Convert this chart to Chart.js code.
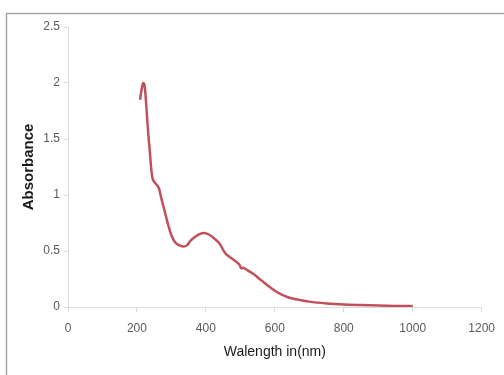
<!DOCTYPE html>
<html>
<head>
<meta charset="utf-8">
<script src="https://cdn.jsdelivr.net/npm/chart.js@4/dist/chart.umd.min.js"></script>
<style>
  html, body { margin: 0; padding: 0; background: #fff; }
  #wrap { position: relative; width: 504px; height: 375px; }
</style>
</head>
<body>
<div id="wrap"><canvas id="spectrum" width="504" height="375"></canvas></div>
<script>
// Wavelength (nm) and absorbance
const wavelengths = [209, 213, 218, 222, 227, 232, 237, 242, 246, 252, 258, 264, 270, 280, 290, 300, 310, 320, 335, 345, 355, 370, 385, 395, 410, 425, 440, 450, 458, 470, 485, 497, 503, 508, 520, 540, 560, 580, 600, 620, 640, 660, 700, 750, 800, 850, 900, 950, 1000];
const absorbance = [1.85, 1.93, 2.0, 1.98, 1.80, 1.58, 1.40, 1.22, 1.14, 1.11, 1.09, 1.06, 0.98, 0.86, 0.74, 0.64, 0.58, 0.555, 0.54, 0.55, 0.59, 0.63, 0.655, 0.66, 0.645, 0.61, 0.565, 0.51, 0.475, 0.445, 0.41, 0.38, 0.345, 0.35, 0.33, 0.29, 0.24, 0.19, 0.145, 0.11, 0.085, 0.07, 0.048, 0.032, 0.022, 0.017, 0.013, 0.01, 0.008];

const xTicks = [0, 200, 400, 600, 800, 1000, 1200];
const yTicks = [0, 0.5, 1, 1.5, 2, 2.5];

const fontFamily = '"Liberation Sans", Arial, sans-serif';
const tickFont = { family: fontFamily, size: 12 };
const axisGray = '#d9d9d9';

// outer frame like the original figure
const framePlugin = {
    id: 'frame',
    beforeDraw(chart) {
        const ctx = chart.ctx;
        ctx.save();
        ctx.strokeStyle = '#a6a6a6';
        ctx.lineWidth = 1.5;
        ctx.beginPath();
        ctx.moveTo(6.5, 380);
        ctx.lineTo(6.5, 13.5);
        ctx.lineTo(510, 13.5);
        ctx.stroke();
        ctx.restore();
    }
};

const points = wavelengths.map((w, i) => ({ x: w, y: absorbance[i] }));

new Chart(document.getElementById('spectrum'), {
    type: 'line',
    data: {
        datasets: [{
            label: 'Absorbance',
            data: points,
            borderColor: '#c0505a',
            borderWidth: 2.5,
            pointRadius: 0,
            tension: 0.35,
            fill: false
        }]
    },
    options: {
        responsive: false,
        animation: false,
        layout: { padding: { top: 27, right: 22, left: 0, bottom: 0 } },
        plugins: { legend: { display: false }, tooltip: { enabled: false } },
        scales: {
            x: {
                type: 'linear',
                min: 0,
                max: 1200,
                afterFit(scale) { scale.height = 68; },
                afterBuildTicks(scale) { scale.ticks = xTicks.map(v => ({ value: v })); },
                ticks: { color: '#595959', font: tickFont, padding: 9, callback: v => String(v) },
                grid: { drawOnChartArea: false, tickLength: 5, color: axisGray },
                border: { color: axisGray },
                title: {
                    display: true,
                    text: 'Walength in(nm)',
                    color: '#1a1a1a',
                    font: { family: fontFamily, size: 14 },
                    padding: { top: 0, bottom: 14 }
                }
            },
            y: {
                min: 0,
                max: 2.5,
                afterFit(scale) { scale.width = 68; },
                afterBuildTicks(scale) { scale.ticks = yTicks.map(v => ({ value: v })); },
                ticks: { color: '#595959', font: tickFont, padding: 4, callback: v => String(v) },
                grid: { drawOnChartArea: false, tickLength: 4, color: axisGray },
                border: { color: axisGray },
                title: {
                    display: true,
                    text: 'Absorbance',
                    color: '#1a1a1a',
                    font: { family: fontFamily, size: 15, weight: 'bold' },
                    padding: { top: 20, bottom: 0 }
                }
            }
        }
    },
    plugins: [framePlugin]
});
</script>
</body>
</html>
